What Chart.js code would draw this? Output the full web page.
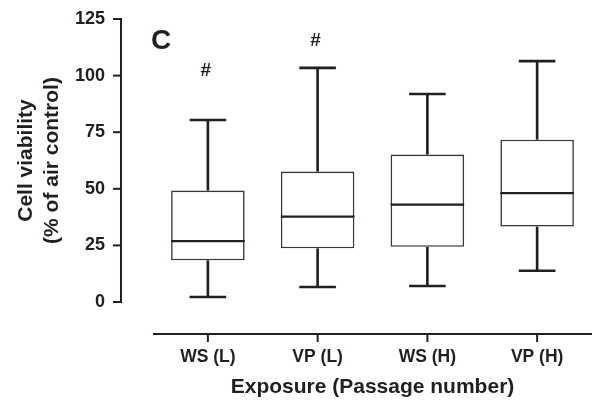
<!DOCTYPE html>
<html><head><meta charset="utf-8">
<script src="https://cdn.jsdelivr.net/npm/chart.js@4.4.1/dist/chart.umd.min.js"></script>
<style>html,body{margin:0;padding:0;background:#fff;}canvas{display:block;}</style>
</head><body>
<canvas id="c" width="592" height="401"></canvas>
<script>
// ---- data ----
const categories = ['WS (L)', 'VP (L)', 'WS (H)', 'VP (H)'];
const whiskerMin = [2.2, 6.6, 7.1, 13.8];
const quartile1  = [18.4, 23.7, 24.4, 33.3];
const medians    = [26.9, 37.7, 43.0, 48.1];
const quartile3  = [49.2, 57.6, 65.1, 71.7];
const whiskerMax = [80.4, 103.4, 91.9, 106.4];
const yTicks     = [0, 25, 50, 75, 100, 125];
const sigMarks   = ['#', '#', '', ''];
const sigValues  = [102, 115.3, null, null];
const panelLabel = 'C';
const yTitle = ['Cell viability', '(% of air control)'];
const xTitle = 'Exposure (Passage number)';

// ---- styles ----
const INK = '#231f20';
const FONT = '"Liberation Sans", Arial, Helvetica, sans-serif';

const customAxes = {
  id: 'customAxes',
  afterDraw(chart) {
    const {ctx, chartArea, scales: {x, y}} = chart;
    ctx.save();
    ctx.strokeStyle = INK;
    ctx.lineWidth = 2;
    ctx.lineCap = 'butt';
    // y axis (offset left of plot area)
    const ax = chartArea.left - 32;
    ctx.beginPath();
    ctx.moveTo(ax, y.getPixelForValue(yTicks[yTicks.length - 1]) - 1);
    ctx.lineTo(ax, y.getPixelForValue(yTicks[0]) + 1);
    ctx.stroke();
    yTicks.forEach(v => {
      const py = y.getPixelForValue(v);
      ctx.beginPath(); ctx.moveTo(ax - 8, py); ctx.lineTo(ax + 1, py); ctx.stroke();
    });
    // x axis (offset below plot area)
    const ay = chartArea.bottom + 32;
    ctx.beginPath();
    ctx.moveTo(chartArea.left, ay); ctx.lineTo(chartArea.right, ay); ctx.stroke();
    categories.forEach((_, i) => {
      const px = x.getPixelForTick(i);
      ctx.beginPath(); ctx.moveTo(px, ay); ctx.lineTo(px, ay + 8); ctx.stroke();
    });
    // significance marks
    ctx.fillStyle = INK;
    ctx.textAlign = 'center';
    ctx.textBaseline = 'middle';
    ctx.font = 'bold 19px ' + FONT;
    sigMarks.forEach((m, i) => {
      if (!m) return;
      ctx.fillText(m, x.getPixelForValue(i) - 2, y.getPixelForValue(sigValues[i]));
    });
    // panel label
    ctx.font = 'bold 28px ' + FONT;
    ctx.textAlign = 'left';
    ctx.fillText(panelLabel, chartArea.left - 2, 41);
    ctx.restore();
  }
};

new Chart(document.getElementById('c'), {
  type: 'bar',
  data: {
    labels: categories,
    datasets: [
      {
        type: 'line', label: 'median', data: medians, showLine: false,
        pointStyle: 'line', pointRadius: 36.8, pointHoverRadius: 36.8,
        pointBorderColor: INK, pointBorderWidth: 2.4, pointHoverBorderWidth: 2.4, order: 0
      },
      {
        type: 'line', label: 'max cap', data: whiskerMax, showLine: false,
        pointStyle: 'line', pointRadius: 18.3, pointHoverRadius: 18.3,
        pointBorderColor: INK, pointBorderWidth: 2.6, pointHoverBorderWidth: 2.6, order: 1
      },
      {
        type: 'line', label: 'min cap', data: whiskerMin, showLine: false,
        pointStyle: 'line', pointRadius: 18.3, pointHoverRadius: 18.3,
        pointBorderColor: INK, pointBorderWidth: 2.6, pointHoverBorderWidth: 2.6, order: 1
      },
      {
        label: 'box', data: categories.map((_, i) => [quartile1[i], quartile3[i]]),
        backgroundColor: '#ffffff', borderColor: '#3a3738', borderWidth: 1.6,
        borderSkipped: false, barPercentage: 0.67, categoryPercentage: 1, grouped: false, order: 2
      },
      {
        label: 'upper whisker', data: categories.map((_, i) => [quartile3[i], whiskerMax[i]]),
        backgroundColor: INK, borderWidth: 0, barPercentage: 0.024, categoryPercentage: 1,
        grouped: false, order: 3
      },
      {
        label: 'lower whisker', data: categories.map((_, i) => [whiskerMin[i], quartile1[i]]),
        backgroundColor: INK, borderWidth: 0, barPercentage: 0.024, categoryPercentage: 1,
        grouped: false, order: 3
      }
    ]
  },
  options: {
    responsive: false,
    animation: false,
    devicePixelRatio: 1,
    events: [],
    layout: {autoPadding: false, padding: {top: 19, left: 0, right: 0, bottom: 0}},
    plugins: {legend: {display: false}, tooltip: {enabled: false}},
    scales: {
      x: {
        type: 'category',
        offset: true,
        grid: {display: true, drawOnChartArea: false, drawTicks: true, tickLength: 45, color: 'rgba(0,0,0,0)'},
        border: {display: false},
        ticks: {color: INK, font: {family: FONT, size: 17.5, weight: 'bold'}, padding: 0, maxRotation: 0},
        title: {display: true, text: xTitle, color: INK,
                font: {family: FONT, size: 21, weight: 'bold'}, padding: {top: 0, bottom: 1}},
        afterFit(scale) { scale.height = 99; scale.paddingLeft = 0; scale.paddingRight = 0; }
      },
      y: {
        min: yTicks[0], max: yTicks[yTicks.length - 1],
        grid: {display: true, drawOnChartArea: false, drawTicks: true, tickLength: 48, color: 'rgba(0,0,0,0)'},
        border: {display: false},
        afterBuildTicks(scale) { scale.ticks = yTicks.map(v => ({value: v})); },
        ticks: {color: INK, font: {family: FONT, size: 18, weight: 'bold'}, padding: 0},
        title: {display: true, text: yTitle, color: INK,
                font: {family: FONT, size: 21, weight: 'bold', lineHeight: 1.2}, padding: {top: 14, bottom: 0}},
        afterFit(scale) { scale.width = 153; scale.paddingTop = 0; scale.paddingBottom = 0; }
      }
    }
  },
  plugins: [customAxes]
});
</script>
</body></html>
